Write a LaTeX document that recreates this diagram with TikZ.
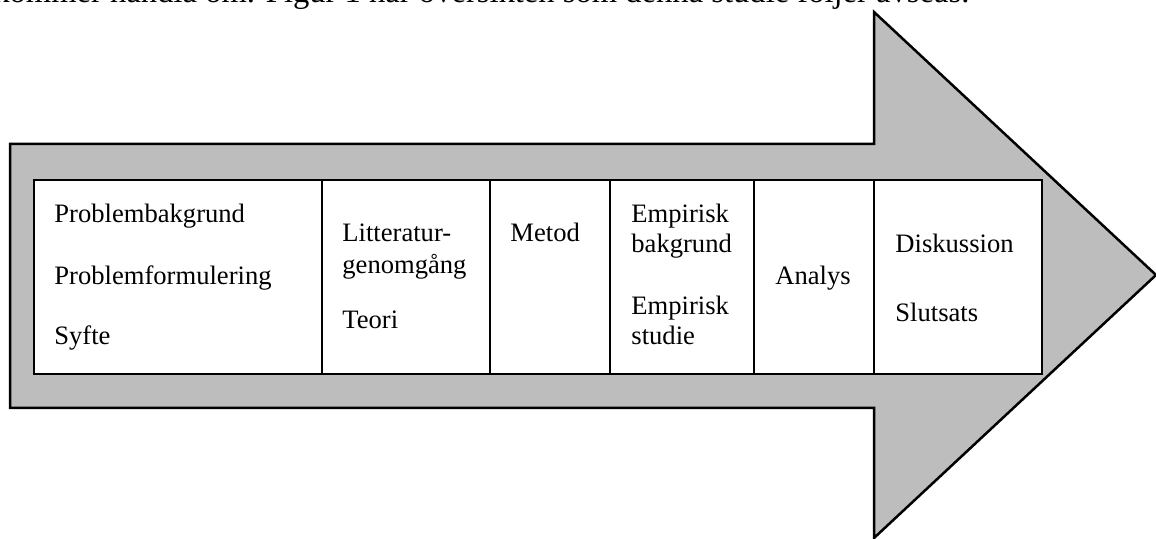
\documentclass[tikz,border=0pt]{standalone}
\usepackage{fontspec}
\setmainfont{Liberation Serif}
\begin{document}
\begin{tikzpicture}[x=0.5pt,y=-0.5pt,
  arrowbody/.style={draw=black, line width=1.25pt, fill=black!26, line join=miter},
  cell/.style={draw=black, line width=1pt, fill=white, inner sep=0pt, outer sep=0pt, anchor=north west, minimum height=97pt},
  lbl/.style={anchor=base west, inner sep=0pt, font=\fontsize{13.3}{16}\selectfont},
  topline/.style={anchor=base west, inner sep=0pt, font=\fontsize{16.3}{19.5}\selectfont}]
\useasboundingbox (0,0) rectangle (1156,539);

% last line of the running text above the figure
\node[topline] (intro) at (-7,3) {kommer handla om. Figur 1 har översikten som denna studie följer avseas.};

% big block arrow
\draw[arrowbody] (10,144) -- (874,144) -- (874,12) -- (1156,275) -- (874,538) -- (874,408) -- (10,408) -- cycle;

% row of phase boxes
\node[cell, minimum width=144pt] (c1) at (34,180) {};
\node[cell, minimum width=84pt] (c2) at (c1.north east) {};
\node[cell, minimum width=60pt] (c3) at (c2.north east) {};
\node[cell, minimum width=72pt] (c4) at (c3.north east) {};
\node[cell, minimum width=60pt] (c5) at (c4.north east) {};
\node[cell, minimum width=84pt] (c6) at (c5.north east) {};

% box texts
\node[lbl] (t11) at (54,223) {Problembakgrund};
\node[lbl] (t12) at (54,285) {Problemformulering};
\node[lbl] (t13) at (54,345) {Syfte};

\node[lbl] (t21) at (342,242) {Litteratur-};
\node[lbl] (t22) at (342,274) {genomgång};
\node[lbl] (t23) at (342,329) {Teori};

\node[lbl] (t31) at (510,242) {Metod};

\node[lbl] (t41) at (631,223) {Empirisk};
\node[lbl] (t42) at (631,253) {bakgrund};
\node[lbl] (t43) at (631,315) {Empirisk};
\node[lbl] (t44) at (631,345) {studie};

\node[lbl] (t51) at (775,285) {Analys};

\node[lbl] (t61) at (895,253) {Diskussion};
\node[lbl] (t62) at (895,322) {Slutsats};
\end{tikzpicture}
\end{document}
